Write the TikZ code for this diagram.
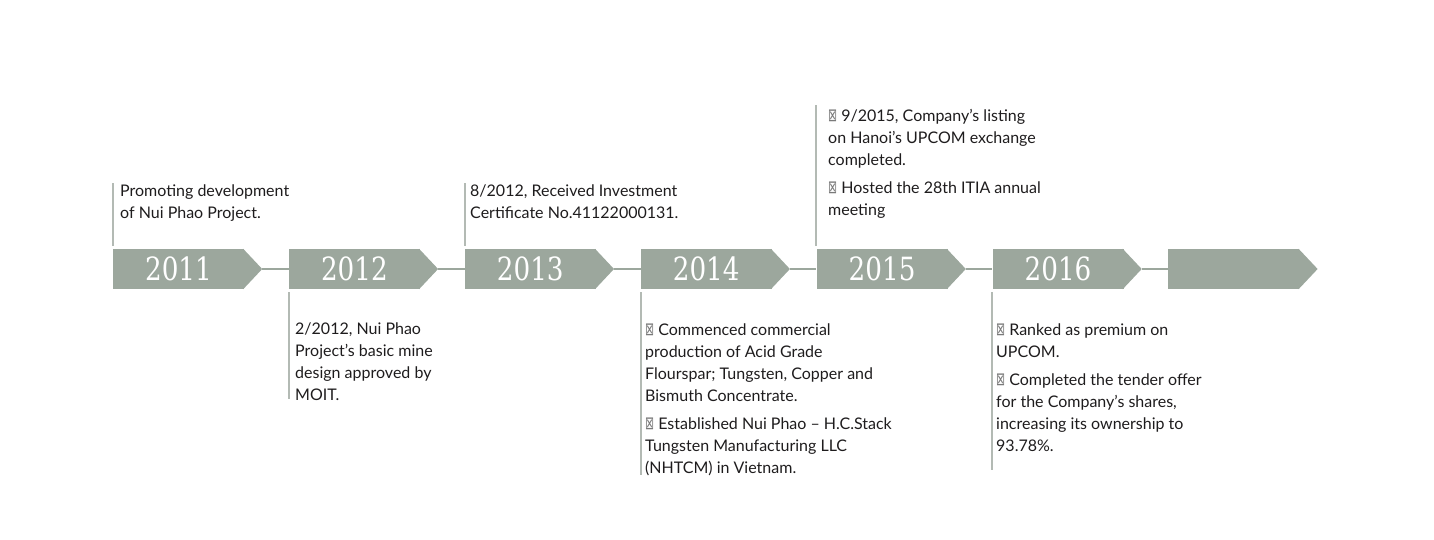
\documentclass[tikz,border=0pt]{standalone}
\usepackage{fontspec}
\setmainfont{Lato}
\newfontfamily\yearfont[FakeStretch=0.82]{DejaVu Serif}
\newfontfamily\symfont{DejaVu Sans}
\usetikzlibrary{positioning,calc}
\definecolor{cbox}{HTML}{9CA79D}
\definecolor{cline}{HTML}{B3BAB4}
\definecolor{ctxt}{HTML}{1E1C1D}
\definecolor{cbul}{HTML}{7A7A7A}
\newcommand{\bul}{{\color{cbul}\symfont\fontsize{18}{15}\selectfont\scalebox{0.6}[1]{⊠}}\ }
\tikzset{
  yr/.style={rectangle, fill=cbox, minimum width=131pt, minimum height=40pt, inner sep=0pt,
             text=white, font=\yearfont\fontsize{32}{32}\selectfont},
  link/.style={draw=cbox, line width=2.5pt},
  stem/.style={draw=cline, line width=2pt},
  note/.style={anchor=north west, inner sep=0pt, align=left, text=ctxt,
               font=\fontsize{16}{22}\selectfont}
}

\begin{document}
\begin{tikzpicture}[x=1pt, y=-1pt, node distance=44.5pt]
\useasboundingbox (0,0) rectangle (1434,540);
% year boxes
\node[yr] (y11) at (178.5,269) {2011};
\node[yr, right=of y11] (y12) {2012};
\node[yr, right=of y12] (y13) {2013};
\node[yr, right=of y13] (y14) {2014};
\node[yr, right=of y14] (y15) {2015};
\node[yr, right=of y15] (y16) {2016};
\node[yr, right=of y16] (y17) {};
% pointed ends
\foreach \n in {11,12,13,14,15,16,17}{
  \coordinate (t\n) at ($(y\n.east)+(18,0)$);
  \fill[cbox] ([xshift=-1pt]y\n.north east) -- (t\n) -- ([xshift=-1pt]y\n.south east) -- cycle;
}
\draw[link] (t11) -- (y12); \draw[link] (t12) -- (y13); \draw[link] (t13) -- (y14);
\draw[link] (t14) -- (y15); \draw[link] (t15) -- (y16); \draw[link] (t16) -- (y17);
% stems
\coordinate (s11) at ($(y11.north west)+(0,-66)$);
\coordinate (s13) at ($(y13.north west)+(0,-66)$);
\coordinate (s15) at ($(y15.north west)+(0,-144)$);
\coordinate (s12) at ($(y12.south west)+(0,110)$);
\coordinate (s14) at ($(y14.south west)+(0,186)$);
\coordinate (s16) at ($(y16.south west)+(0,181)$);
\draw[stem] ([yshift=3pt]y11.north west) -- (s11);
\draw[stem] ([yshift=3pt]y13.north west) -- (s13);
\draw[stem] ([yshift=3pt]y15.north west) -- (s15);
\draw[stem] ([yshift=-3pt]y12.south west) -- (s12);
\draw[stem] ([yshift=-3pt]y14.south west) -- (s14);
\draw[stem] ([yshift=-3pt]y16.south west) -- (s16);
% notes
\node[note] (n11) at (120,185) {Promoting development\\of Nui Phao Project.};
\node[note] (n13) at (470,185) {8/2012, Received Investment\\Certificate No.41122000131.};
\node[note] (n15) at (828,109) {\bul 9/2015, Company’s listing\\on Hanoi’s UPCOM exchange\\completed.\\[6pt]
  \bul Hosted the 28th ITIA annual\\meeting};
\node[note] (n12) at (295,323) {2/2012, Nui Phao\\Project’s basic mine\\design approved by\\MOIT.};
\node[note] (n14) at (645,324) {\bul Commenced commercial\\production of Acid Grade\\Flourspar; Tungsten, Copper and\\Bismuth Concentrate.\\[6pt]
  \bul Established Nui Phao – H.C.Stack\\Tungsten Manufacturing LLC\\(NHTCM) in Vietnam.};
\node[note] (n16) at (996,324) {\bul Ranked as premium on\\UPCOM.\\[6pt]
  \bul Completed the tender offer\\for the Company’s shares,\\increasing its ownership to\\93.78\%.};
\end{tikzpicture}
\end{document}
